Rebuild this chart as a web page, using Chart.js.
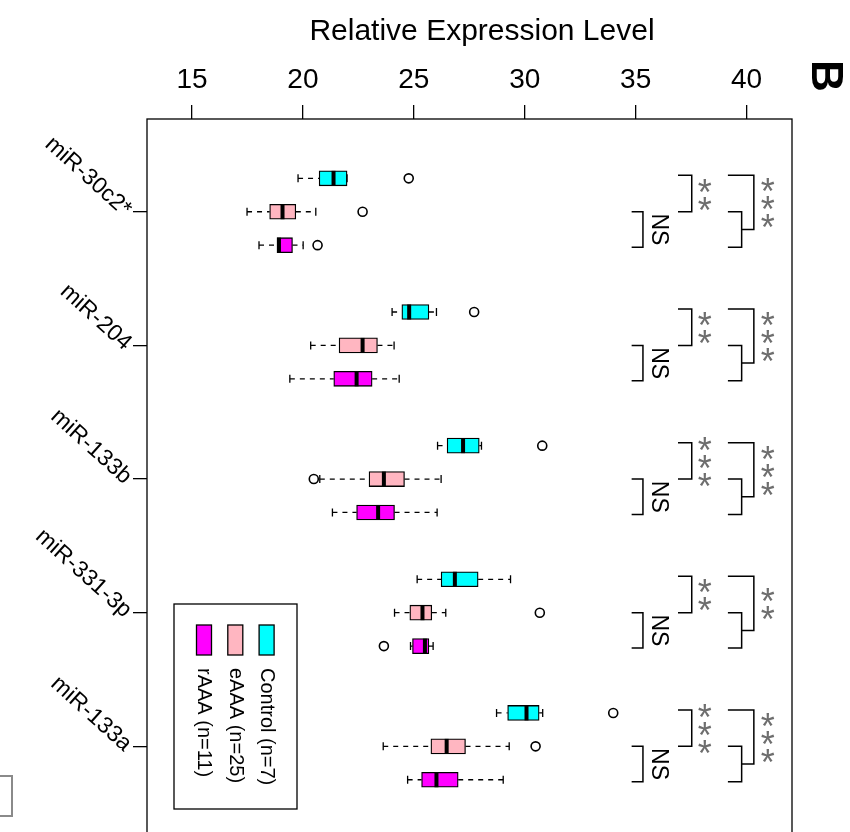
<!DOCTYPE html>
<html>
<head>
<meta charset="utf-8">
<title>Relative Expression Level</title>
<script src="https://cdn.jsdelivr.net/npm/chart.js@4.4.1/dist/chart.umd.min.js"></script>
<style>
  html, body { margin: 0; padding: 0; background: #fff; overflow: hidden; }
  #wrap { width: 850px; height: 832px; overflow: hidden; }
</style>
</head>
<body>
<div id="wrap"><canvas id="boxChart" width="850" height="900"></canvas></div>
<script>
// categories (top to bottom) and groups
const categories = ['miR-30c2*', 'miR-204', 'miR-133b', 'miR-331-3p', 'miR-133a'];
const groups = ['Control (n=7)', 'eAAA (n=25)', 'rAAA (n=11)'];
const xTicks = [15, 20, 25, 30, 35, 40];

// [lower whisker, Q1, median, Q3, upper whisker] per category
const controlStats = [
    [19.78, 20.73, 21.38, 21.99, 21.99],
    [24.02, 24.46, 24.79, 25.68, 26.02],
    [26.07, 26.50, 27.22, 27.95, 28.05],
    [25.15, 26.23, 26.85, 27.90, 29.36],
    [28.73, 29.23, 30.08, 30.65, 30.81]
];
const eaaaStats = [
    [17.48, 18.50, 19.08, 19.68, 20.58],
    [20.35, 21.63, 22.69, 23.36, 24.11],
    [20.76, 22.98, 23.65, 24.58, 26.23],
    [24.13, 24.82, 25.39, 25.81, 26.44],
    [23.62, 25.77, 26.48, 27.33, 29.30]
];
const raaaStats = [
    [18.02, 18.83, 18.92, 19.53, 20.01],
    [19.41, 21.39, 22.42, 23.12, 24.34],
    [21.33, 22.42, 23.39, 24.13, 26.05],
    [24.85, 24.94, 25.50, 25.68, 25.87],
    [24.72, 25.35, 26.02, 27.00, 29.03]
];

// outliers (null = none)
const controlOutliers = [24.77, 27.72, 30.79, null, 33.99];
const eaaaOutliers = [22.69, null, 20.49, 30.68, 30.49];
const raaaOutliers = [20.66, null, null, 23.65, null];

// significance labels
const nsLabels = ['NS', 'NS', 'NS', 'NS', 'NS'];
const controlVsEaaa = ['**', '**', '***', '**', '***'];
const controlVsAaa = ['***', '***', '***', '**', '***'];

const FONT = '"Liberation Sans", Arial, Helvetica, sans-serif';
const groupColors = ['#00FFFF', '#FFB6C1', '#FF00FF'];
const groupOffsets = [-0.25, 0, 0.25];
const stats = [controlStats, eaaaStats, raaaStats];
const outliers = [controlOutliers, eaaaOutliers, raaaOutliers];
const BOX_H = 15;

const boxDatasets = groups.map((g, gi) => ({
    type: 'bar',
    label: g,
    indexAxis: 'y',
    data: categories.map((c, ci) => ({ y: ci + groupOffsets[gi], x: [stats[gi][ci][1], stats[gi][ci][3]] })),
    backgroundColor: groupColors[gi],
    borderColor: '#000',
    borderWidth: 1.3,
    borderSkipped: false,
    barThickness: BOX_H,
    grouped: false
}));

const outlierPoints = [];
outliers.forEach((arr, gi) => arr.forEach((v, ci) => {
    if (v !== null) outlierPoints.push({ x: v, y: ci + groupOffsets[gi] });
}));

// whiskers, staples and medians
const boxplotParts = {
    id: 'boxplotParts',
    afterDatasetsDraw(chart) {
        const { ctx, scales: { x, y } } = chart;
        ctx.save();
        stats.forEach((rows, gi) => rows.forEach((s, ci) => {
            const py = y.getPixelForValue(ci + groupOffsets[gi]);
            const [lo, q1, med, q3, hi] = s.map(v => x.getPixelForValue(v));
            ctx.strokeStyle = '#000';
            ctx.lineWidth = 1.3;
            ctx.setLineDash([5, 5]);
            ctx.beginPath();
            ctx.moveTo(lo, py); ctx.lineTo(q1, py);
            ctx.moveTo(q3, py); ctx.lineTo(hi, py);
            ctx.stroke();
            ctx.setLineDash([]);
            ctx.beginPath();
            ctx.moveTo(lo, py - 4); ctx.lineTo(lo, py + 4);
            ctx.moveTo(hi, py - 4); ctx.lineTo(hi, py + 4);
            ctx.stroke();
            ctx.lineWidth = 4;
            ctx.beginPath();
            ctx.moveTo(med, py - BOX_H / 2); ctx.lineTo(med, py + BOX_H / 2);
            ctx.stroke();
        }));
        ctx.restore();
    }
};

function rotatedText(ctx, text, x, y, angle, align, baseline) {
    ctx.save();
    ctx.translate(x, y);
    ctx.rotate(angle);
    ctx.textAlign = align;
    ctx.textBaseline = baseline;
    ctx.fillText(text, 0, 0);
    ctx.restore();
}

function stars(ctx, n, x, yMid) {
    ctx.save();
    ctx.fillStyle = '#6e6e6e';
    ctx.font = '36px ' + FONT;
    ctx.textAlign = 'center';
    ctx.textBaseline = 'alphabetic';
    for (let i = 0; i < n; i++) {
        const yy = yMid + (i - (n - 1) / 2) * 18;
        ctx.fillText('*', x, yy + 20);
    }
    ctx.restore();
}

const decorations = {
    id: 'decorations',
    afterDraw(chart) {
        const { ctx, chartArea: a, scales: { x, y } } = chart;
        ctx.save();
        ctx.strokeStyle = '#000';
        ctx.lineWidth = 1.3;
        ctx.strokeRect(a.left, a.top, a.right - a.left, a.bottom - a.top);

        // axis title
        ctx.fillStyle = '#000';
        ctx.font = '30px ' + FONT;
        ctx.textAlign = 'center';
        ctx.textBaseline = 'alphabetic';
        ctx.fillText('Relative Expression Level', 482, 40);

        // panel letter
        ctx.font = 'bold 44px ' + FONT;
        rotatedText(ctx, 'B', 824, 76, Math.PI / 2, 'center', 'middle');

        // category labels
        ctx.font = '23px ' + FONT;
        categories.forEach((c, ci) => {
            rotatedText(ctx, c, a.left - 19, y.getPixelForValue(ci) + 1, 42 * Math.PI / 180, 'right', 'middle');
        });

        // significance brackets
        const px = v => x.getPixelForValue(v);
        categories.forEach((c, ci) => {
            const yc = y.getPixelForValue(ci + groupOffsets[0]) - 3;
            const ye = y.getPixelForValue(ci + groupOffsets[1]);
            const yr = y.getPixelForValue(ci + groupOffsets[2]) + 2;
            ctx.strokeStyle = '#000';
            ctx.lineWidth = 1.5;
            ctx.beginPath();
            // eAAA vs rAAA
            ctx.moveTo(px(34.82), ye); ctx.lineTo(px(35.33), ye); ctx.lineTo(px(35.33), yr); ctx.lineTo(px(34.82), yr);
            // Control vs eAAA
            ctx.moveTo(px(36.91), yc); ctx.lineTo(px(37.53), yc); ctx.lineTo(px(37.53), ye); ctx.lineTo(px(36.91), ye);
            // Control vs AAA
            ctx.moveTo(px(39.16), ye); ctx.lineTo(px(39.78), ye); ctx.lineTo(px(39.78), yr); ctx.lineTo(px(39.16), yr);
            const ym = (ye + yr) / 2;
            ctx.moveTo(px(39.78), ym); ctx.lineTo(px(40.33), ym); ctx.lineTo(px(40.33), yc); ctx.lineTo(px(39.16), yc);
            ctx.stroke();

            ctx.fillStyle = '#000';
            ctx.font = '23px ' + FONT;
            rotatedText(ctx, nsLabels[ci], px(35.33) + 15, ym, Math.PI / 2, 'center', 'middle');
            stars(ctx, controlVsEaaa[ci].length, px(37.53) + 13, (yc + ye) / 2);
            stars(ctx, controlVsAaa[ci].length, px(40.33) + 14, (yc + ym) / 2);
        });

        // legend
        ctx.strokeStyle = '#000';
        ctx.lineWidth = 1.3;
        ctx.strokeRect(174, 604, 123, 205);
        [2, 1, 0].forEach((gi, k) => {
            const cx = 204 + k * 31.3;
            ctx.fillStyle = groupColors[gi];
            ctx.fillRect(cx - 7.5, 625, 15, 30);
            ctx.strokeRect(cx - 7.5, 625, 15, 30);
            ctx.fillStyle = '#000';
            ctx.font = '20px ' + FONT;
            rotatedText(ctx, groups[gi], cx, 668, Math.PI / 2, 'left', 'middle');
        });

        // edge of neighbouring panel
        ctx.strokeStyle = '#8a8a8a';
        ctx.lineWidth = 2;
        ctx.beginPath();
        ctx.moveTo(0, 776); ctx.lineTo(12, 776); ctx.lineTo(12, 816); ctx.lineTo(0, 816);
        ctx.stroke();
        ctx.restore();
    }
};

const ctx = document.getElementById('boxChart').getContext('2d');
window.boxChartInstance = new Chart(ctx, {
    data: {
        datasets: [
            ...boxDatasets,
            {
                type: 'scatter',
                label: 'outliers',
                data: outlierPoints,
                pointRadius: 4.5,
                pointBorderWidth: 1.6,
                pointBorderColor: '#000',
                pointBackgroundColor: 'rgba(0,0,0,0)'
            }
        ]
    },
    options: {
        responsive: false,
        animation: false,
        devicePixelRatio: 1,
        layout: { padding: { left: 0, right: 58, top: 0, bottom: 20 } },
        plugins: {
            legend: { display: false },
            tooltip: { enabled: false }
        },
        scales: {
            x: {
                type: 'linear',
                position: 'top',
                offset: false,
                min: 12.97,
                max: 42.05,
                afterBuildTicks: s => { s.ticks = xTicks.map(v => ({ value: v })); },
                afterFit: s => { s.height = 119; },
                ticks: { color: '#000', font: { family: FONT, size: 28 }, padding: 8, maxRotation: 0 },
                grid: { offset: false, drawOnChartArea: false, drawTicks: true, tickLength: 14, color: '#000', lineWidth: 1.3 },
                border: { display: false }
            },
            y: {
                type: 'linear',
                reverse: true,
                offset: false,
                min: -0.694,
                max: 5,
                afterBuildTicks: s => { s.ticks = categories.map((c, i) => ({ value: i })); },
                afterFit: s => { s.width = 147; },
                ticks: { display: false },
                grid: { offset: false, drawOnChartArea: false, drawTicks: true, tickLength: 14, color: '#000', lineWidth: 1.3 },
                border: { display: false }
            }
        }
    },
    plugins: [boxplotParts, decorations]
});
</script>
</body>
</html>
